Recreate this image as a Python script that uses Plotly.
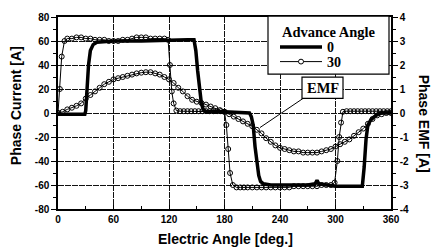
import plotly.graph_objects as go

# ---------------- data ----------------
# Advance angle 0 deg: phase current [A]
angle_0 = [0, 29, 30, 31, 33, 35, 38, 42, 60, 90, 120, 140, 147, 149, 151, 153, 155, 157, 160,
           180, 200, 207, 209, 211, 213, 215, 217, 219, 222, 230, 250, 270, 278, 280, 282, 300,
           320, 329, 331, 333, 335, 338, 342, 348, 360]
current_0 = [-1, -1, 2, 14, 40, 52, 57, 59, 60, 60, 61, 61, 61, 52, 35, 18, 8, 3, 1,
             1, 0.5, 0, -3, -10, -28, -42, -52, -57, -59, -60, -60, -60, -59, -56, -59, -61,
             -61, -61, -45, -22, -10, -6, -3, 0, 0]

# Advance angle 30 deg: phase current [A]
angle_30 = [0, 2, 4, 7, 10, 15, 20, 25, 30, 35, 40, 45, 50, 55, 60, 65, 70, 75, 80, 85, 90,
            95, 100, 105, 110, 115, 119, 121, 123, 125, 128, 132, 136, 140, 144, 148, 152,
            156, 160, 164, 168, 172, 176, 180, 182, 184, 186, 189, 193, 197, 201, 205, 210,
            215, 220, 225, 230, 235, 240, 245, 250, 255, 260, 265, 270, 275, 280, 285, 290,
            295, 299, 302, 304, 306, 308, 312, 316, 320, 324, 328, 332, 336, 340, 344, 348,
            352, 356, 360]
current_30 = [0, 20, 47, 60, 62, 62, 63, 63, 62, 62, 61, 61, 61, 60, 60, 60, 61, 61, 62, 63, 63,
              63, 62, 62, 62, 62, 61, 40, 18, 8, 2, 1.5, 1.5, 1.5, 1.5, 1.5, 1.5,
              1.5, 1.5, 1.5, 1.5, 1.5, 1.5, 1, -10, -30, -50, -60, -62, -62, -62, -62, -62,
              -62, -62, -62, -62, -62, -62, -62, -62, -61, -61, -61, -61, -61, -61, -60, -60,
              -60, -58, -40, -20, -8, 1, 1.5, 1.5, 1.5, 1.5, 1.5, 1.5, 1.5, 1.5, 1.5, 1.5,
              1.5, 1.5, 1.5]

# Phase EMF (right axis)
angle_emf = list(range(0, 361, 5))
emf = [0.0, 0.05, 0.15, 0.22, 0.3, 0.4, 0.6, 0.75, 0.9, 1.05, 1.2, 1.3, 1.4, 1.45, 1.5,
       1.55, 1.6, 1.65, 1.68, 1.7, 1.7, 1.65, 1.6, 1.5, 1.4, 1.25, 1.05, 0.9, 0.7, 0.55,
       0.47, 0.42, 0.35, 0.27, 0.2, 0.12, 0.05, -0.05, -0.15, -0.25, -0.35, -0.45, -0.55,
       -0.7, -0.85, -1.05, -1.2, -1.35, -1.45, -1.5, -1.55, -1.6, -1.6, -1.65, -1.65,
       -1.65, -1.65, -1.6, -1.55, -1.5, -1.4, -1.3, -1.2, -1.1, -0.95, -0.8, -0.65, -0.45,
       -0.25, -0.1, -0.05, 0.0, 0.0]

x_ticks = [0, 60, 120, 180, 240, 300, 360]
y_ticks = [80, 60, 40, 20, 0, -20, -40, -60, -80]
y_ticktext = ["80", "60", "40", "20", "0", "-20", "-40", "-60", "-80"]
y2_ticks = [4, 3, 2, 1, 0, -1, -2, -3, -4]
y2_ticktext = ["4", "3", "2", "1", "0", "-1", "-2", "-3", "-4"]
legend_labels = ["0", "30"]

# ---------------- figure ----------------
fig = go.Figure()

mk = dict(symbol="circle-open", size=5, color="black", line=dict(width=1, color="black"))

fig.add_trace(go.Scatter(x=angle_emf, y=emf, mode="lines+markers", yaxis="y2",
                         line=dict(color="black", width=1), marker=mk, showlegend=False))
fig.add_trace(go.Scatter(x=angle_30, y=current_30, mode="lines+markers",
                         line=dict(color="black", width=1), marker=mk, showlegend=False))
fig.add_trace(go.Scatter(x=angle_0, y=current_0, mode="lines",
                         line=dict(color="black", width=3.5), showlegend=False))

tickfont = dict(family="Arial, Liberation Sans", size=10, color="black", weight="bold")
grid = dict(showgrid=True, gridcolor="#111", gridwidth=0.8, griddash="6px,1px")

fig.update_layout(
    width=441, height=251,
    margin=dict(l=58, r=50, t=11, b=42),
    paper_bgcolor="white", plot_bgcolor="white",
    showlegend=False,
    xaxis=dict(range=[0, 360], tickvals=x_ticks, ticks="inside", ticklen=4, tickcolor="black",
               showline=True, linecolor="black", linewidth=1.5, mirror=True,
               tickfont=tickfont, zeroline=False,
               minor=dict(dtick=30, ticks="inside", ticklen=3, tickcolor="black", showgrid=False),
               **grid),
    yaxis=dict(range=[-80, 80], tickvals=y_ticks, ticktext=y_ticktext, ticks="outside",
               ticklen=5, tickcolor="black", showline=True, linecolor="black", linewidth=1.5,
               tickfont=tickfont, zeroline=False,
               minor=dict(dtick=10, ticks="outside", ticklen=3, tickcolor="black", showgrid=False),
               **grid),
    yaxis2=dict(range=[-4, 4], tickvals=y2_ticks, ticktext=y2_ticktext, overlaying="y",
                side="right", ticks="outside", ticklen=5, tickcolor="black", showline=True,
                linecolor="black", linewidth=1.5, tickfont=tickfont, showgrid=False,
                zeroline=False,
                minor=dict(dtick=0.5, ticks="outside", ticklen=3, tickcolor="black")),
)

# convert pixel positions (plot area 58..391 x 11..209) into paper coordinates
def px_x(p):
    return (p - 58) / 333.0

def px_y(p):
    return (209 - p) / 198.0

shapes = []
# legend box
shapes.append(dict(type="rect", xref="paper", yref="paper", x0=px_x(268), x1=px_x(389),
                   y0=px_y(70), y1=px_y(10), line=dict(color="black", width=1.2),
                   fillcolor="white", layer="above"))
shapes.append(dict(type="line", xref="paper", yref="paper", x0=px_x(280), x1=px_x(322),
                   y0=px_y(42), y1=px_y(42), line=dict(color="black", width=3.5)))
shapes.append(dict(type="line", xref="paper", yref="paper", x0=px_x(280), x1=px_x(322),
                   y0=px_y(57), y1=px_y(57), line=dict(color="black", width=1)))
shapes.append(dict(type="circle", xref="paper", yref="paper", x0=px_x(298.5), x1=px_x(303.5),
                   y0=px_y(59.5), y1=px_y(54.5), line=dict(color="black", width=1),
                   fillcolor="white"))
# EMF label pointer and box
shapes.append(dict(type="line", xref="paper", yref="paper", x0=px_x(303), x1=px_x(260),
                   y0=px_y(95), y1=px_y(125), line=dict(color="black", width=1)))
shapes.append(dict(type="rect", xref="paper", yref="paper", x0=px_x(302), x1=px_x(343),
                   y0=px_y(95), y1=px_y(73), line=dict(color="black", width=1.2),
                   fillcolor="white", layer="above"))
fig.update_layout(shapes=shapes)

serif = "Liberation Serif, Times New Roman, serif"
title_font = dict(family="Arial, Liberation Sans", size=14, color="black", weight="bold")
sfont = dict(family=serif, size=14.5, color="black", weight="bold")
sfont_small = dict(family=serif, size=14, color="black", weight="bold")

def ann(text, x, y, font, xanchor="center", textangle=0):
    return dict(text=text, x=px_x(x), y=px_y(y), xref="paper", yref="paper",
                xanchor=xanchor, yanchor="middle", textangle=textangle,
                showarrow=False, font=font, borderpad=0)

annotations = [
    ann("Advance Angle", 329, 26, sfont),
    ann(legend_labels[0], 326, 42.5, sfont_small, xanchor="left"),
    ann(legend_labels[1], 326, 57.5, sfont_small, xanchor="left"),
    ann("EMF", 322.5, 84, sfont),
    ann("Phase Current [A]", 16, 103, title_font, textangle=-90),
    ann("Phase EMF [A]", 424, 121, title_font, textangle=90),
    ann("Electric Angle [deg.]", 225, 240, title_font),
]
fig.update_layout(annotations=annotations)

fig.write_html("out.html", config={"displayModeBar": False},
               post_script="document.body.style.margin='0';")
